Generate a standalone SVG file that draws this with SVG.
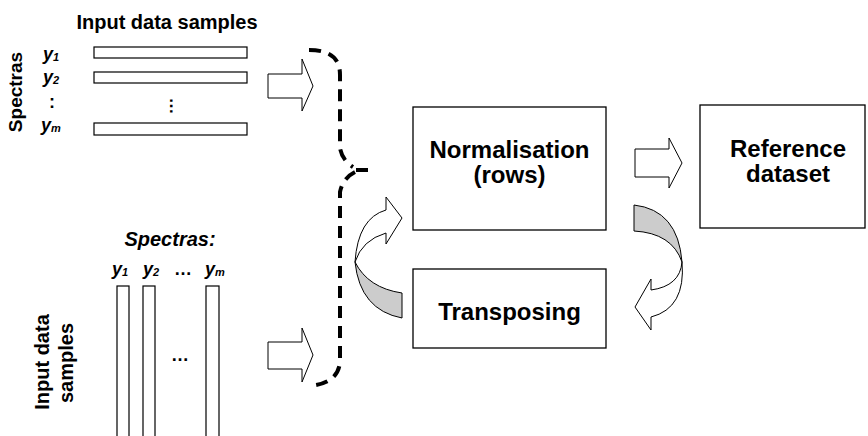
<svg xmlns="http://www.w3.org/2000/svg" width="868" height="436" viewBox="0 0 868 436">
<style>
text{font-family:"Liberation Sans",Arial,sans-serif;font-weight:bold;fill:#000}
.it{font-style:italic}
.box{fill:#fff;stroke:#000;stroke-width:1.3}
.bar{fill:#fff;stroke:#000;stroke-width:1.2}
.blk{fill:#fff;stroke:#000;stroke-width:1}
.gry{fill:#cccccc;stroke:#000;stroke-width:1}
.brace{fill:none;stroke:#000;stroke-width:4;stroke-dasharray:12 8}
</style>
<rect width="868" height="436" fill="#fff"/>
<g id="input-rows">
<text x="167" y="29" font-size="20" text-anchor="middle">Input data samples</text>
<text transform="translate(22,92) rotate(-90)" font-size="19" text-anchor="middle">Spectras</text>
<text class="it" x="43" y="60" font-size="18">y<tspan font-size="11" dy="1">1</tspan></text>
<text class="it" x="43" y="83" font-size="18">y<tspan font-size="11" dy="1">2</tspan></text>
<text x="49" y="108" font-size="18">:</text>
<text class="it" x="41" y="131" font-size="18">y<tspan font-size="11" dy="1">m</tspan></text>
<rect class="bar" x="94" y="47" width="153" height="11"/>
<rect class="bar" x="94" y="72" width="153" height="11"/>
<rect class="bar" x="94" y="123" width="153" height="12"/>
<text transform="translate(170,106) rotate(90)" font-size="17" text-anchor="middle">…</text>
</g>
<g id="input-columns">
<text class="it" x="170" y="246" font-size="20" text-anchor="middle">Spectras:</text>
<text class="it" x="112" y="275" font-size="18">y<tspan font-size="11" dy="1">1</tspan></text>
<text class="it" x="143" y="275" font-size="18">y<tspan font-size="11" dy="1">2</tspan></text>
<text x="174" y="275" font-size="18">…</text>
<text class="it" x="205" y="275" font-size="18">y<tspan font-size="11" dy="1">m</tspan></text>
<text transform="translate(49,362) rotate(-90)" font-size="20" text-anchor="middle">Input data</text>
<text transform="translate(73,363) rotate(-90)" font-size="20" text-anchor="middle">samples</text>
<rect class="bar" x="117" y="286" width="12" height="160"/>
<rect class="bar" x="143" y="286" width="12" height="160"/>
<rect class="bar" x="206" y="286" width="13" height="160"/>
<text x="171" y="361" font-size="18">…</text>
</g>
<g id="normalisation">
<rect class="box" x="413" y="107" width="193" height="123"/>
<text x="509.5" y="158" font-size="24" text-anchor="middle">Normalisation</text>
<text x="509.5" y="183" font-size="24" text-anchor="middle">(rows)</text>
</g>
<g id="reference">
<rect class="box" x="700" y="105" width="165" height="123"/>
<text x="788" y="157" font-size="24" text-anchor="middle">Reference</text>
<text x="788" y="182" font-size="24" text-anchor="middle">dataset</text>
</g>
<g id="transposing">
<rect class="box" x="413" y="269" width="193" height="79"/>
<text x="509.5" y="320" font-size="24" text-anchor="middle">Transposing</text>
</g>
<g id="connectors">
<path class="blk" d="M268,74 H302 V59 L313,86 L302,111 V98 H268 Z"/>
<path class="blk" d="M268,342 H302 V328 L313,355 L302,382 V369 H268 Z"/>
<path class="blk" d="M635,149 H669 V138 L682,163 L669,188 V177 H635 Z"/>
<path class="brace" d="M309,50 C330,50 340,58 340,75 L340,148 Q342,160 353,167"/>
<path class="brace" stroke-dasharray="16" d="M356,170 L372,170"/>
<path class="brace" d="M355,172 Q343,178 340,192 L340,362 Q338,384 308,386"/>
<path class="gry" d="M355,262 Q360,310 402,318 L402,293 Q368,288 355,262 Z"/>
<path class="blk" d="M355,262 Q358,218 386,210 L386,197 L402,218 L386,244 L386,233 Q362,240 355,262 Z"/>
<path class="gry" d="M634,205 Q678,210 682,262 Q672,233 634,231 Z"/>
<path class="blk" d="M682,262 Q680,286 651,290 L651,279 L635,307 L651,330 L651,317 Q686,308 682,262 Z"/>
</g>
</svg>
